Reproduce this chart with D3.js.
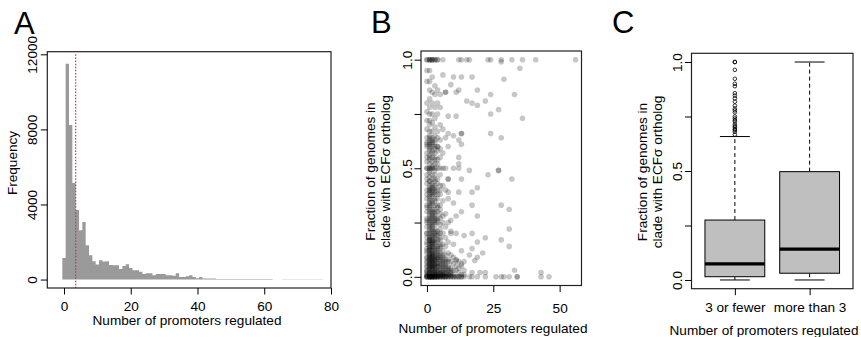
<!DOCTYPE html>
<html>
<head>
<meta charset="utf-8">
<script src="https://cdn.jsdelivr.net/npm/d3@7"></script>
<style>
  body { margin: 0; background: #fff; }
  svg { display: block; font-family: "Liberation Sans", Arial, Helvetica, sans-serif; }
</style>
</head>
<body>
<svg id="fig" width="861" height="337"></svg>
<script>
// ---- Panel A: histogram, one bin per integer (bin centre = array index) ----
const histCounts = [
  1150, 11500, 8230, 5150, 3700, 2630, 3070, 1830, 1300, 980,
  800, 1030, 960, 980, 770, 760, 760, 560, 720, 820,
  610, 500, 500, 410, 290, 340, 340, 230, 290, 290,
  290, 230, 230, 200, 340, 130, 130, 180, 230, 130,
  70, 130, 60, 60, 60, 60, 25, 25, 25, 25,
  25, 25, 25, 25, 25, 25, 25, 25, 25, 25,
  25, 25, 25, 8, 8, 8, 20, 20, 20, 20,
  20, 20, 20, 20, 20, 20, 20, 20, 8, 8
];
const histXTicks = [0, 20, 40, 60, 80];
const histYTicks = [0, 4000, 8000, 12000];
const cutoffValue = 3.5;

// ---- Panel B: fraction of genomes vs number of promoters ----
// y values stacked on each integer x = 0..14 (dense part of the cloud)
const denseColumns = [
  [0, 0, 0, 0, 0.01, 0.02, 0.03, 0.05, 0.07, 0.09, 0.11, 0.13, 0.16, 0.18, 0.2, 0.23, 0.25, 0.27, 0.3, 0.33, 0.36, 0.4, 0.43, 0.47, 0.5, 0.5, 0.53, 0.57, 0.6, 0.62, 0.64, 0.68, 0.72, 0.76, 0.8, 0.9, 0.95, 1, 1],
  [0, 0, 0, 0, 0, 0, 0.01, 0.02, 0.02, 0.03, 0.04, 0.05, 0.06, 0.07, 0.08, 0.09, 0.1, 0.11, 0.12, 0.13, 0.14, 0.15, 0.17, 0.17, 0.18, 0.2, 0.21, 0.23, 0.25, 0.26, 0.27, 0.28, 0.3, 0.32, 0.33, 0.35, 0.37, 0.39, 0.4, 0.4, 0.42, 0.44, 0.46, 0.48, 0.5, 0.5, 0.52, 0.54, 0.56, 0.58, 0.6, 0.61, 0.63, 0.65, 0.67, 0.7, 0.72, 0.75, 0.78, 0.82, 0.86, 0.9, 1, 1, 1],
  [0, 0, 0, 0, 0, 0, 0.01, 0.02, 0.03, 0.04, 0.05, 0.06, 0.07, 0.08, 0.09, 0.1, 0.11, 0.12, 0.14, 0.15, 0.16, 0.17, 0.19, 0.2, 0.22, 0.24, 0.25, 0.27, 0.28, 0.3, 0.33, 0.35, 0.38, 0.4, 0.41, 0.43, 0.45, 0.5, 0.5, 0.53, 0.55, 0.58, 0.6, 0.62, 0.64, 0.67, 0.71, 0.75, 0.8, 0.85, 0.92, 1, 1, 1],
  [0, 0, 0, 0, 0, 0.01, 0.02, 0.03, 0.04, 0.05, 0.06, 0.07, 0.08, 0.1, 0.11, 0.13, 0.14, 0.16, 0.17, 0.19, 0.2, 0.22, 0.25, 0.27, 0.29, 0.31, 0.33, 0.36, 0.38, 0.4, 0.42, 0.45, 0.47, 0.5, 0.52, 0.55, 0.57, 0.6, 0.62, 0.65, 0.69, 0.73, 0.78, 0.84, 0.88, 1, 1],
  [0, 0, 0, 0, 0.01, 0.02, 0.03, 0.05, 0.06, 0.08, 0.09, 0.1, 0.12, 0.14, 0.17, 0.19, 0.21, 0.25, 0.27, 0.3, 0.33, 0.36, 0.4, 0.43, 0.5, 0.54, 0.58, 0.6, 0.64, 0.67, 0.75, 0.8, 0.86, 1, 1],
  [0, 0, 0, 0.01, 0.02, 0.04, 0.05, 0.07, 0.09, 0.11, 0.13, 0.15, 0.18, 0.2, 0.24, 0.29, 0.33, 0.38, 0.42, 0.47, 0.5, 0.55, 0.59, 0.63, 0.7, 0.78, 0.84],
  [0, 0, 0, 0.01, 0.02, 0.03, 0.05, 0.06, 0.08, 0.1, 0.12, 0.15, 0.2, 0.25, 0.28, 0.35, 0.42, 0.5, 0.57, 0.68, 1],
  [0, 0, 0, 0.02, 0.04, 0.05, 0.07, 0.1, 0.14, 0.18, 0.23, 0.29, 0.4, 0.5, 0.64, 0.85],
  [0, 0, 0.01, 0.03, 0.05, 0.08, 0.11, 0.16, 0.25, 0.36, 0.45, 0.6],
  [0, 0, 0.02, 0.04, 0.07, 0.1, 0.2],
  [0, 0, 0.01, 0.03, 0.06, 0.09],
  [0, 0, 0.03, 0.05, 0.08],
  [0, 0, 0.02, 0.04, 0.07],
  [0, 0, 0.01, 0.05, 0.06],
  [0, 0.01, 0.03]
];
// more of the overlapping points in the lower part of the same columns (x = 0..9)
const denseColumnsLower = [
  [0.005, 0.025, 0.045, 0.065, 0.085, 0.12, 0.15, 0.2, 0.26, 0.32, 0.38, 0.45, 0.55, 0.61],
  [0.005, 0.015, 0.035, 0.045, 0.055, 0.065, 0.075, 0.085, 0.095, 0.105, 0.125, 0.135, 0.155, 0.165, 0.185, 0.22, 0.24, 0.29, 0.31, 0.34, 0.36, 0.38, 0.41, 0.44, 0.49, 0.55, 0.59, 0.62, 0.64],
  [0.005, 0.015, 0.035, 0.045, 0.055, 0.065, 0.075, 0.085, 0.095, 0.105, 0.125, 0.135, 0.155, 0.165, 0.185, 0.21, 0.23, 0.26, 0.29, 0.31, 0.34, 0.37, 0.39, 0.42, 0.47, 0.51, 0.57, 0.61, 0.63],
  [0.005, 0.015, 0.025, 0.045, 0.055, 0.075, 0.085, 0.095, 0.12, 0.15, 0.18, 0.21, 0.24, 0.26, 0.28, 0.3, 0.35, 0.39, 0.41, 0.44, 0.49, 0.54, 0.59, 0.63],
  [0.005, 0.025, 0.045, 0.065, 0.085, 0.11, 0.13, 0.16, 0.2, 0.26, 0.32, 0.38, 0.45, 0.52, 0.6],
  [0.005, 0.015, 0.03, 0.06, 0.08, 0.1, 0.14, 0.17, 0.22, 0.27, 0.31, 0.4],
  [0.005, 0.015, 0.04, 0.07, 0.09],
  [0.005, 0.015, 0.03, 0.06, 0.08],
  [0.005, 0.02, 0.04, 0.07],
  [0.005, 0.015, 0.03]
];
// the scattered points further out
const sparsePoints = [
  [6, 0.93], [10, 0.92], [13, 0.92], [17, 0.92], [29, 0.91], [9, 0.885], [19, 0.86],
  [7, 0.85], [11, 0.85], [12, 0.86], [24, 0.84], [33, 0.84], [15, 0.81], [17, 0.8],
  [19, 0.79], [22, 0.81], [27, 0.77], [8, 0.74], [11, 0.74], [24, 0.75], [36, 0.73],
  [8, 0.66], [10, 0.65], [13, 0.66], [13, 0.66], [24, 0.66], [28, 0.64], [12, 0.63],
  [13, 0.61], [12, 0.55], [12, 0.52], [10, 0.5], [12, 0.5], [16, 0.49], [23, 0.47],
  [27, 0.49], [27, 0.49], [32, 0.45], [8, 0.45], [13, 0.45], [8, 0.39], [12, 0.39],
  [19, 0.41], [17, 0.39], [10, 0.34], [17, 0.33], [28, 0.33], [31, 0.31], [13, 0.3],
  [11, 0.28], [19, 0.28], [9, 0.26], [31, 0.22], [9, 0.21], [11, 0.2], [17, 0.2],
  [14, 0.19], [22, 0.18], [28, 0.17], [19, 0.16], [31, 0.14], [10, 0.15], [13, 0.12],
  [17, 0.13], [16, 0.1], [19, 0.09], [21, 0.11], [18, 0.075], [11, 0.075], [14, 0.07],
  [20, 0.02], [22, 0.02], [17, 0.02], [33, 0.03], [43, 0.02],
  [12, 1], [13, 1], [15, 1], [16, 1], [23, 1], [24, 1], [28, 0.99], [28, 1], [32, 1],
  [36, 1], [41, 1], [56, 1], [35, 0.96], [1, 0.95],
  [16, 0], [17, 0], [19, 0], [22, 0], [26, 0], [28, 0], [29, 0], [31, 0], [34, 0],
  [34, 0], [43, 0], [46, 0]
];
const scatterXTicks = [0, 25, 50];
const fractionTicks = [0, 0.25, 0.5, 0.75, 1];

// ---- Panel C: box plot summaries ----
const boxGroups = ["3 or fewer", "more than 3"];
const boxLowerWhisker = [0, 0];
const boxQ1 = [0.015, 0.031];
const boxMedian = [0.074, 0.142];
const boxQ3 = [0.275, 0.497];
const boxUpperWhisker = [0.658, 1.0];
const outliersFewer = [1, 1, 0.964, 0.923, 0.9, 0.889, 0.857, 0.846, 0.833, 0.818, 0.8, 0.786,
  0.778, 0.769, 0.75, 0.741, 0.733, 0.727, 0.714, 0.706, 0.7, 0.692, 0.688, 0.68, 0.667];

const xTitle = "Number of promoters regulated";
const fracTitle = ["Fraction of genomes in", "clade with ECF\u03c3 ortholog"];

const fontSize = 13.6;
const svg = d3.select("#fig");
svg.append("rect").attr("width", 861).attr("height", 337).attr("fill", "#fff");

// Plot regions (pixels)
const A = {left: 47.3, right: 331, top: 51.7, bottom: 288};
const B = {left: 421, right: 581.5, top: 51, bottom: 285.5};
const C = {left: 691.5, right: 853, top: 53.3, bottom: 288.7};

// helpers
function styleAxis(g) {
  g.select(".domain").remove();
  g.selectAll("line").attr("stroke", "#000").attr("stroke-width", 1);
  g.selectAll("text").attr("font-size", fontSize).attr("fill", "#000")
    .attr("font-family", "'Liberation Sans', Arial, sans-serif");
}
function bottomAxis(scale, ticks, y, baseline, fmt) {
  const g = svg.append("g").attr("transform", `translate(0,${y})`)
    .call(d3.axisBottom(scale).tickValues(ticks).tickSize(6.5).tickSizeOuter(0)
      .tickFormat(fmt || d3.format("d")));
  styleAxis(g);
  g.selectAll("text").attr("y", baseline - y).attr("dy", 0);
  return g;
}
function leftAxis(scale, ticks, x, baselineX, fmt) {
  const g = svg.append("g").attr("transform", `translate(${x},0)`)
    .call(d3.axisLeft(scale).tickValues(ticks).tickSize(6.5).tickSizeOuter(0).tickFormat(fmt));
  styleAxis(g);
  g.selectAll("text").attr("transform", "rotate(-90)").attr("text-anchor", "middle")
    .attr("x", 0).attr("dy", 0).attr("y", baselineX - x);
  return g;
}
function frame(p) {
  svg.append("rect").attr("x", p.left).attr("y", p.top)
    .attr("width", p.right - p.left).attr("height", p.bottom - p.top)
    .attr("fill", "none").attr("stroke", "#222").attr("stroke-width", 1.2);
}
function label(text, x, y, size, extra) {
  const t = svg.append("text").attr("x", x).attr("y", y).attr("font-size", size)
    .attr("fill", "#000").text(text);
  if (extra) extra(t);
  return t;
}
function rotatedLabel(text, x, y) {
  return svg.append("text").attr("transform", `translate(${x},${y}) rotate(-90)`)
    .attr("text-anchor", "middle").attr("font-size", fontSize).attr("fill", "#000").text(text);
}

// ================= Panel A =================
const xA = d3.scaleLinear().domain([-5, 80]).range([A.left, A.right]);
const yA = d3.scaleLinear().domain([-450, 12140]).range([A.bottom, A.top]);

const steps = histCounts.map((c, i) => [i - 0.5, c]);
steps.push([histCounts.length - 0.5, histCounts[histCounts.length - 1]]);
svg.append("path")
  .datum(steps)
  .attr("fill", "#9a9a9a")
  .attr("d", d3.area().curve(d3.curveStepAfter)
    .x(d => xA(d[0])).y0(yA(0)).y1(d => yA(d[1])));

svg.append("line")
  .attr("x1", xA(cutoffValue)).attr("x2", xA(cutoffValue))
  .attr("y1", yA(12000)).attr("y2", A.bottom)
  .attr("stroke", "#d4237a").attr("stroke-width", 1.2).attr("stroke-dasharray", "1.5,1.6");

frame(A);
bottomAxis(xA, histXTicks, A.bottom, 310.5);
leftAxis(yA, histYTicks, A.left, 36.7, d3.format("d"));
label(xTitle, 187, 325, fontSize, t => t.attr("text-anchor", "middle"));
rotatedLabel("Frequency", 16.5, 163);
label("A", 14, 34, 31);

// ================= Panel B =================
const xB = d3.scaleLinear().domain([-2.24, 58.24]).range([B.left, B.right]);
const yB = d3.scaleLinear().domain([-0.04, 1.04]).range([B.bottom, B.top]);

const scatterPoints = denseColumns.flatMap((ys, x) => ys.map(y => [x, y]))
  .concat(denseColumnsLower.flatMap((ys, x) => ys.map(y => [x, y])))
  .concat(sparsePoints);

svg.append("clipPath").attr("id", "clipB").append("rect")
  .attr("x", B.left).attr("y", B.top).attr("width", B.right - B.left).attr("height", B.bottom - B.top);
svg.append("g").attr("clip-path", "url(#clipB)")
  .selectAll("circle").data(scatterPoints).join("circle")
  .attr("cx", d => xB(d[0])).attr("cy", d => yB(d[1])).attr("r", 2.8)
  .attr("fill", "rgba(0,0,0,0.22)");

frame(B);
bottomAxis(xB, scatterXTicks, B.bottom, 313);
leftAxis(yB, fractionTicks, B.left, 411.5, d => (d * 2) % 1 === 0 ? d3.format(".1f")(d) : "");
label(xTitle, 493, 332.7, fontSize, t => t.attr("text-anchor", "middle"));
rotatedLabel(fracTitle[0], 375, 171.5);
rotatedLabel(fracTitle[1], 390, 171.5);
label("B", 371, 33.3, 31);

// ================= Panel C =================
const xC = d3.scaleLinear().domain([0.42, 2.58]).range([C.left, C.right]);
const yC = d3.scaleLinear().domain([-0.04, 1.04]).range([C.bottom, C.top]);
const boxHalf = xC(1.4) - xC(1);
const capHalf = xC(1.2) - xC(1);

boxGroups.forEach((name, i) => {
  const cx = xC(i + 1);
  const g = svg.append("g");
  // whiskers
  g.append("line").attr("x1", cx).attr("x2", cx)
    .attr("y1", yC(boxQ3[i])).attr("y2", yC(boxUpperWhisker[i]))
    .attr("stroke", "#000").attr("stroke-dasharray", "4,3");
  g.append("line").attr("x1", cx).attr("x2", cx)
    .attr("y1", yC(boxQ1[i])).attr("y2", yC(boxLowerWhisker[i]))
    .attr("stroke", "#000").attr("stroke-dasharray", "4,3");
  [boxUpperWhisker[i], boxLowerWhisker[i]].forEach(v => {
    g.append("line").attr("x1", cx - capHalf).attr("x2", cx + capHalf)
      .attr("y1", yC(v)).attr("y2", yC(v)).attr("stroke", "#000");
  });
  g.append("rect").attr("x", cx - boxHalf).attr("width", boxHalf * 2)
    .attr("y", yC(boxQ3[i])).attr("height", yC(boxQ1[i]) - yC(boxQ3[i]))
    .attr("fill", "#bfbfbf").attr("stroke", "#000").attr("stroke-width", 1);
  g.append("line").attr("x1", cx - boxHalf).attr("x2", cx + boxHalf)
    .attr("y1", yC(boxMedian[i])).attr("y2", yC(boxMedian[i]))
    .attr("stroke", "#000").attr("stroke-width", 3.2);
});

svg.append("g").selectAll("circle").data(outliersFewer).join("circle")
  .attr("cx", xC(1)).attr("cy", d => yC(d)).attr("r", 1.8)
  .attr("fill", "none").attr("stroke", "#000").attr("stroke-width", 0.8);

frame(C);
bottomAxis(xC, [1, 2], C.bottom, 312.5, d => boxGroups[d - 1]);
leftAxis(yC, fractionTicks, C.left, 681.7, d => (d * 2) % 1 === 0 ? d3.format(".1f")(d) : "");
label(xTitle, 764, 334.7, fontSize, t => t.attr("text-anchor", "middle"));
rotatedLabel(fracTitle[0], 646.5, 172);
rotatedLabel(fracTitle[1], 661.5, 172);
label("C", 612, 33.3, 31);
</script>
</body>
</html>
